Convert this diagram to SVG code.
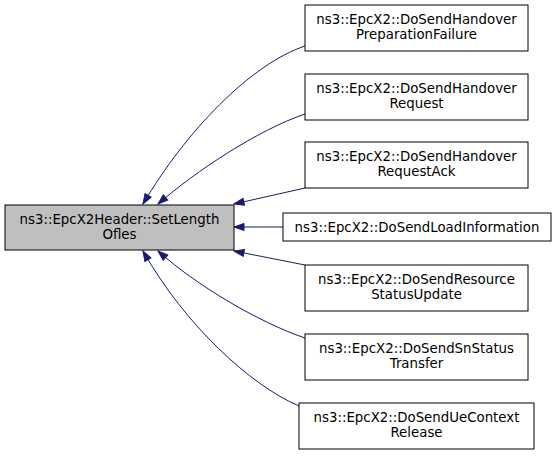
<svg xmlns="http://www.w3.org/2000/svg" width="557" height="456" viewBox="0 0 557 456">
<style>
.n rect{fill:#ffffff;stroke:#000000;stroke-width:1}
.n.main rect{fill:#bfbfbf}
.n text{font-family:"DejaVu Sans",sans-serif;font-size:13.33px;text-anchor:middle;fill:#000000}
.e path{fill:none;stroke:#191970;stroke-width:1;marker-end:url(#arr)}
</style>
<defs>
<marker id="arr" markerUnits="userSpaceOnUse" markerWidth="12" markerHeight="9" refX="11" refY="4.5" orient="auto">
<path d="M1,1 L11,4.5 L1,8 z" fill="#191970" stroke="#191970" stroke-width="1"/>
</marker>
</defs>
<rect width="557" height="456" fill="#ffffff"/>
<g id="edges" class="e">
<path d="M305,46 C251,64 186,131 143,204"/>
<path d="M305,114 C258,130 196,171 158,204"/>
<path d="M305,188 L234,204"/>
<path d="M283,227 L234,227"/>
<path d="M305,265 L234,251"/>
<path d="M305,338 C258,322 196,285 158,251"/>
<path d="M299,406 C250,385 185,325 143,251"/>
</g>
<g id="main" class="n main">
<rect x="5" y="205" width="229" height="45"/>
<text x="119.5" y="223.5">ns3::EpcX2Header::SetLength</text>
<text x="119.5" y="238.5">Ofles</text>
</g>
<g id="n1" class="n">
<rect x="305" y="5" width="223" height="46"/>
<text x="416.5" y="23.5">ns3::EpcX2::DoSendHandover</text>
<text x="416.5" y="38.5">PreparationFailure</text>
</g>
<g id="n2" class="n">
<rect x="305" y="74" width="223" height="46"/>
<text x="416.5" y="92.5">ns3::EpcX2::DoSendHandover</text>
<text x="416.5" y="107.5">Request</text>
</g>
<g id="n3" class="n">
<rect x="305" y="142" width="223" height="46"/>
<text x="416.5" y="160.5">ns3::EpcX2::DoSendHandover</text>
<text x="416.5" y="175.5">RequestAck</text>
</g>
<g id="n4" class="n">
<rect x="283" y="213" width="268" height="28"/>
<text x="417" y="231.5">ns3::EpcX2::DoSendLoadInformation</text>
</g>
<g id="n5" class="n">
<rect x="305" y="265" width="223" height="46"/>
<text x="416.5" y="283.5">ns3::EpcX2::DoSendResource</text>
<text x="416.5" y="298.5">StatusUpdate</text>
</g>
<g id="n6" class="n">
<rect x="305" y="334" width="223" height="46"/>
<text x="416.5" y="352.5">ns3::EpcX2::DoSendSnStatus</text>
<text x="416.5" y="367.5">Transfer</text>
</g>
<g id="n7" class="n">
<rect x="299" y="403" width="235" height="46"/>
<text x="416.5" y="421.5">ns3::EpcX2::DoSendUeContext</text>
<text x="416.5" y="436.5">Release</text>
</g>
</svg>
